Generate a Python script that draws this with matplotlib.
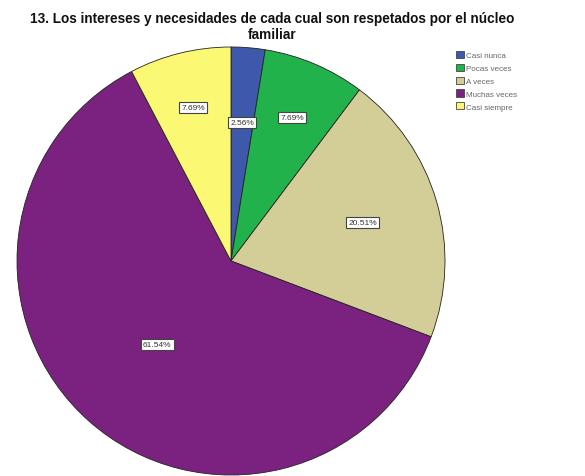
import matplotlib
matplotlib.use("Agg")
import matplotlib.pyplot as plt
from matplotlib.patches import Rectangle
import numpy as np

plt.rcParams['font.family'] = ['Liberation Sans', 'DejaVu Sans']

categories = ["Casi nunca", "Pocas veces", "A veces", "Muchas veces", "Casi siempre"]
percentages = [2.56, 7.69, 20.51, 61.54, 7.69]
colors = ["#3E58AC", "#21B24B", "#D3CE97", "#7B2281", "#FBF873"]
title = "13. Los intereses y necesidades de cada cual son respetados por el núcleo\nfamiliar"

W, H, DPI = 585, 477, 100
fig = plt.figure(figsize=(W / DPI, H / DPI), dpi=DPI)

# pie axes: centre and radius in pixels
cx, cy, r = 231, 262, 214
ax = fig.add_axes([(cx - r) / W, (H - cy - r) / H, 2 * r / W, 2 * r / H])
wedges, _ = ax.pie(percentages, colors=colors, startangle=90, counterclock=False,
                   wedgeprops=dict(edgecolor="#222222", linewidth=0.6))
ax.set_xlim(-1, 1)
ax.set_ylim(-1, 1)
ax.set_aspect("equal")

# percentage labels inside each wedge
label_radius = [0.65, 0.73, 0.64, 0.52, 0.74]
for w, p, lr in zip(wedges, percentages, label_radius):
    ang = np.deg2rad((w.theta1 + w.theta2) / 2)
    ax.text(lr * np.cos(ang), lr * np.sin(ang), f"{p:.2f}%", ha="center", va="center",
            fontsize=6, color="#333333",
            bbox=dict(boxstyle="square,pad=0.25", fc="white", ec="#444444", lw=0.8))

fig.text(272 / W, 1 - 27 / H, title, ha="center", va="center", fontsize=9.8,
         fontweight="bold", linespacing=1.15, color="#111111")

# legend
handles = [Rectangle((0, 0), 1, 1, fc=c, ec="#444444", lw=0.6) for c in colors]
fig.legend(handles, categories, loc="upper left", bbox_to_anchor=(456 / W, 1 - 52 / H),
           frameon=False, fontsize=5.8, handlelength=1.0, handleheight=1.0,
           handletextpad=0.3, labelspacing=0.55, borderpad=0, borderaxespad=0,
           labelcolor="#666666")

fig.savefig("out.png", dpi=DPI, facecolor="white")
